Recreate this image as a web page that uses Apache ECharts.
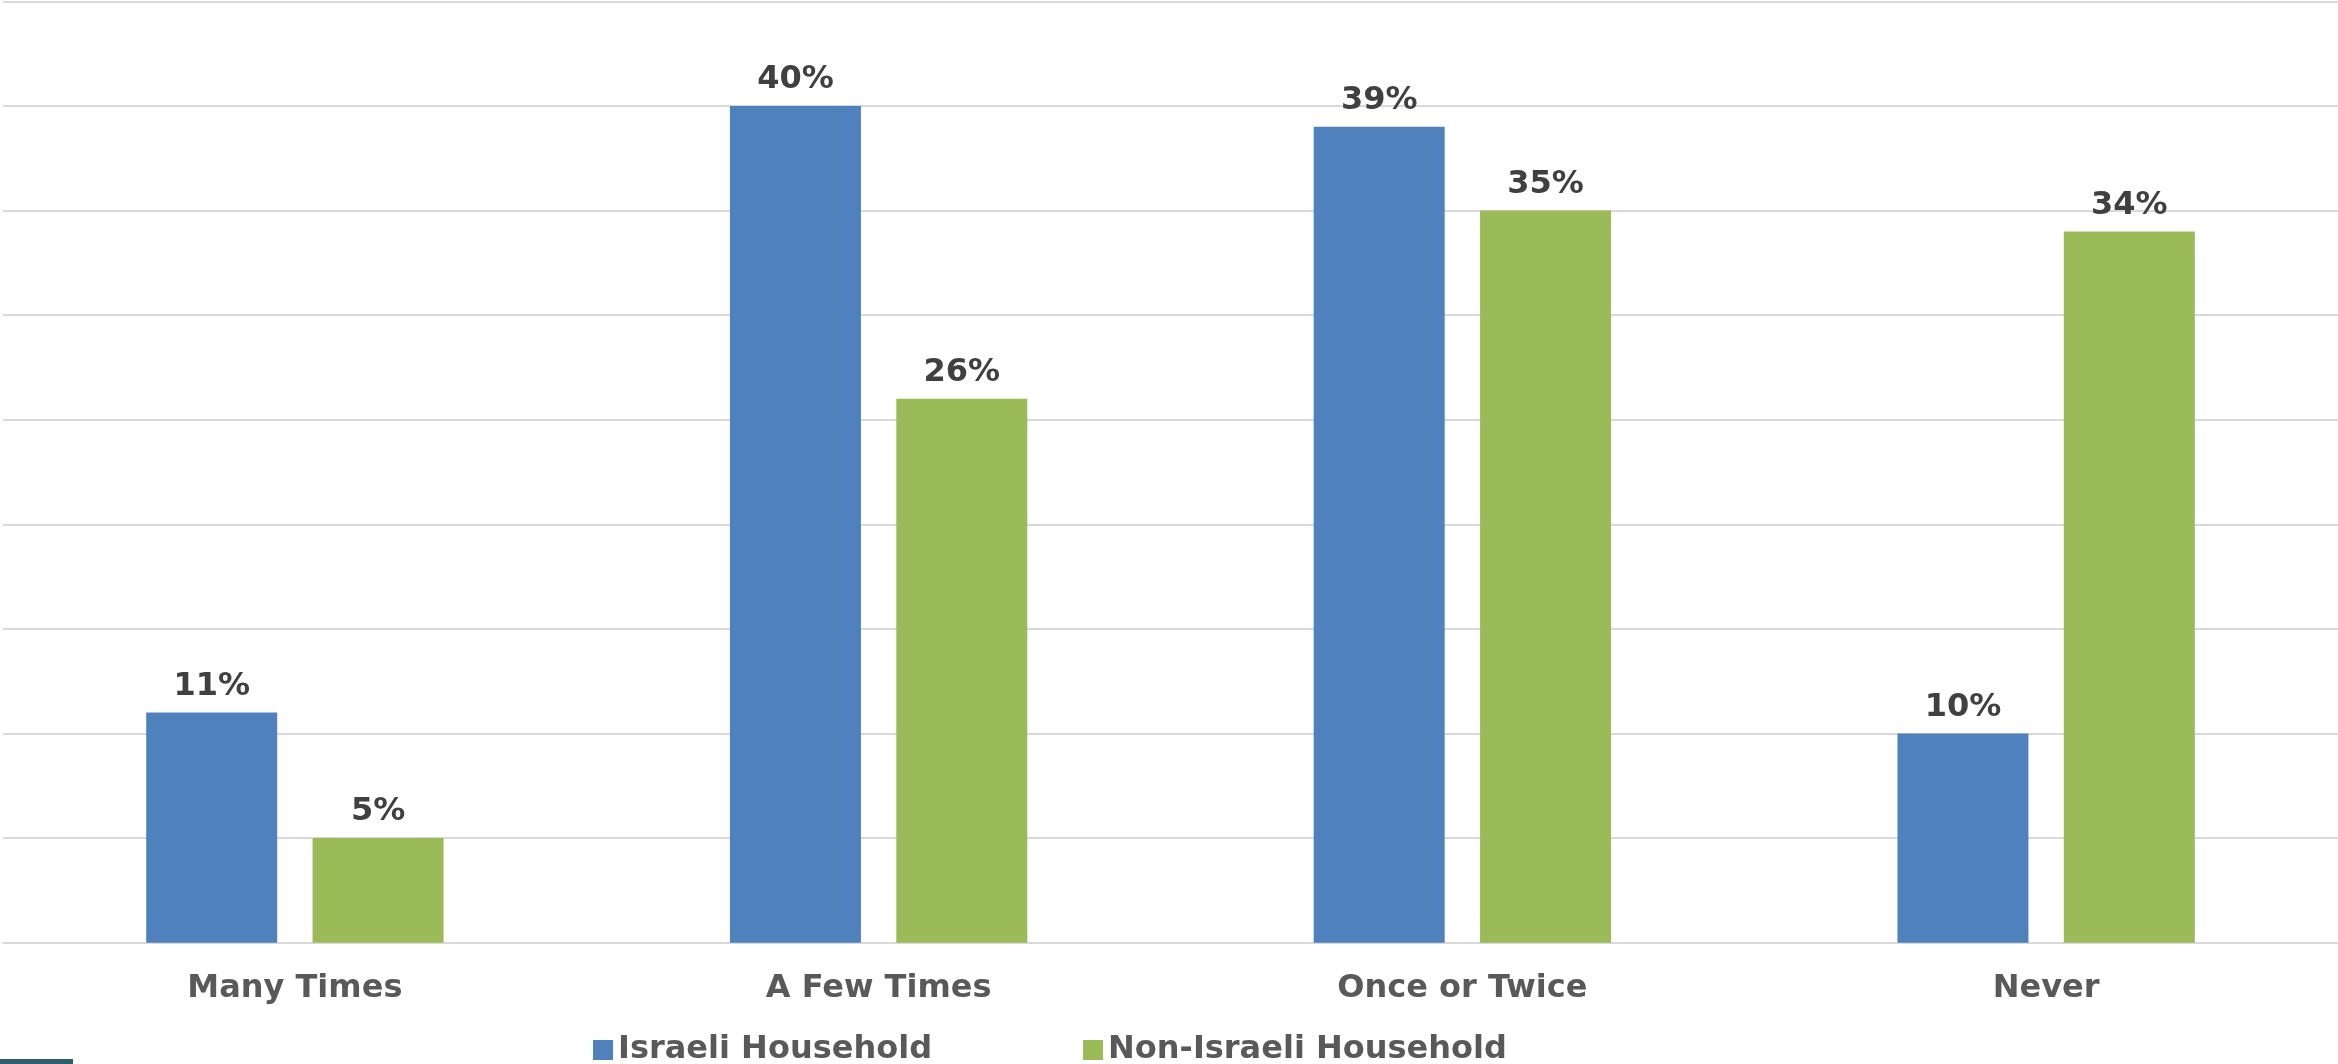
<!DOCTYPE html>
<html>
<head>
<meta charset="utf-8">
<script src="https://cdn.jsdelivr.net/npm/echarts@6/dist/echarts.min.js"></script>
<style>
html,body{margin:0;padding:0;background:#fff;}
#chart{width:2338px;height:1064px;}
</style>
</head>
<body>
<div id="chart"></div>
<script>
const categories = ['Many Times', 'A Few Times', 'Once or Twice', 'Never'];
const israeli = [11, 40, 39, 10];
const nonIsraeli = [5, 26, 35, 34];
const seriesNames = ['Israeli Household', 'Non-Israeli Household'];

const FONT = '"DejaVu Sans", Verdana, sans-serif';
const chart = echarts.init(document.getElementById('chart'), null, {renderer: 'canvas'});

const labelStyle = {
  show: true,
  position: 'top',
  distance: 10,
  formatter: p => p.value + '%',
  color: '#404040',
  fontFamily: FONT,
  fontWeight: 'bold',
  fontSize: 32
};

chart.setOption({
  animation: false,
  backgroundColor: '#ffffff',
  grid: {left: 3, right: 0, top: 1.3, bottom: 121.3, containLabel: false},
  legend: {
    data: seriesNames,
    bottom: -7,
    left: 588,
    itemWidth: 20,
    itemHeight: 20,
    itemGap: 151,
    icon: 'rect',
    textStyle: {color: '#595959', fontFamily: FONT, fontWeight: 'bold', fontSize: 32}
  },
  xAxis: {
    type: 'category',
    data: categories,
    axisLine: {show: true, lineStyle: {color: '#d9d9d9', width: 2}},
    axisTick: {show: false},
    axisLabel: {color: '#595959', fontFamily: FONT, fontWeight: 'bold', fontSize: 32, margin: 30}
  },
  yAxis: {
    type: 'value',
    min: 0,
    max: 45,
    interval: 5,
    axisLabel: {show: false},
    axisLine: {show: false},
    axisTick: {show: false},
    splitLine: {show: true, lineStyle: {color: '#d9d9d9', width: 2}}
  },
  series: [
    {name: seriesNames[0], type: 'bar', data: israeli, barWidth: 131, barGap: '27%',
     itemStyle: {color: '#4F81BD'}, label: labelStyle},
    {name: seriesNames[1], type: 'bar', data: nonIsraeli, barWidth: 131, barGap: '27%',
     itemStyle: {color: '#9BBB59'}, label: labelStyle}
  ],
  graphic: [
    {type: 'rect', left: 0, top: 1059, shape: {width: 73, height: 5}, style: {fill: '#2E5E6E'}}
  ]
});
</script>
</body>
</html>
